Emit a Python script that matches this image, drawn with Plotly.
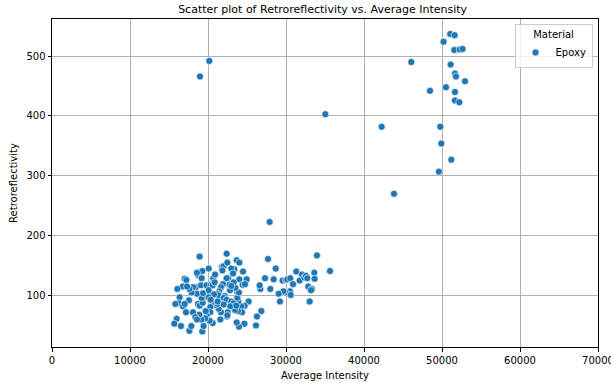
import plotly.graph_objects as go

# Average Intensity (x) and Retroreflectivity (y) for Epoxy markings
intensity = [
    51060, 51620, 50200, 51580, 52260, 52640, 51110, 51660, 51790, 52950,
    50510, 51660, 51660, 52220, 49780, 49910, 51190, 49600, 20170, 18970,
    35040, 42260, 43850, 46060, 48460, 27900,
    18930, 22390, 23680, 24020, 27690, 33970, 35640, 28680, 31320, 21800,
    22000, 20090, 23380, 24490, 22480, 22990, 18760, 19100, 19270, 18590,
    17010, 17220, 19190, 20680, 20900, 21840, 22600, 24020, 24960, 27310,
    28420, 29570, 30000, 30170, 30550, 31750, 32050, 32350, 32560, 32730,
    33630, 33670, 32860, 33330, 33200, 30900, 30510, 29910, 29660, 30600,
    29060, 29230, 33030, 27990, 26710, 26620, 26840, 26280, 26150, 25210,
    24700, 24270, 24660, 23970, 23680, 24360, 23850, 23460, 23890, 23760,
    23760, 23970, 23500, 22820, 23030, 22740, 22390, 21920, 21670, 21450,
    21280, 21370, 22140, 22010, 22390, 22990, 23250, 22860, 22520, 22440,
    21580, 21670, 21370, 20940, 20770, 20300, 20300, 20600, 20210, 19830,
    19700, 19660, 19270, 19150, 18890, 18720, 18930, 19320, 19490, 19190,
    18590, 18420, 19100, 19790, 20380, 20600, 20210, 20380, 20770, 20090,
    19360, 17900, 18080, 17610, 16750, 16070, 16370, 16280, 15810, 16800,
    17180, 18080, 18380, 17560, 17010, 16540, 15980, 15680, 17610, 17860,
    19440, 18590, 20340, 21240, 22010, 22480, 21240, 20090, 20850, 23290,
    23210, 22990, 24450, 24740, 23630, 17310,
]
retro = [
    537, 535, 524, 510, 511, 512, 486, 471, 466, 458,
    448, 440, 426, 423, 382, 354, 327, 307, 492, 466,
    403, 382, 270, 490, 442, 223,
    165, 170, 159, 155, 161, 167, 141, 145, 140, 148,
    149, 145, 144, 140, 155, 145, 134, 140, 141, 138,
    128, 126, 129, 129, 135, 142, 129, 127, 127, 129,
    127, 125, 126, 127, 129, 125, 135, 130, 133, 129,
    138, 128, 115, 111, 109, 119, 107, 105, 107, 101,
    103, 90, 90, 111, 111, 117, 74, 65, 50, 90,
    83, 82, 53, 48, 55, 72, 74, 76, 90, 96,
    106, 105, 113, 109, 120, 118, 129, 119, 114, 107,
    103, 100, 99, 96, 93, 90, 87, 82, 72, 65,
    60, 72, 78, 84, 87, 81, 72, 54, 58, 67,
    74, 62, 40, 60, 68, 86, 83, 88, 97, 96,
    103, 114, 117, 117, 118, 117, 104, 101, 102, 97,
    104, 105, 114, 111, 115, 111, 97, 87, 86, 82,
    72, 72, 64, 92, 86, 49, 61, 53, 41, 49,
    49, 60, 93, 86, 85, 67, 90, 109, 122, 122,
    137, 116, 118, 119, 83, 115,
]

x_ticks = [0, 10000, 20000, 30000, 40000, 50000, 60000, 70000]
y_ticks = [100, 200, 300, 400, 500]

font = "DejaVu Sans"
fig = go.Figure()
fig.add_trace(go.Scatter(
    x=intensity, y=retro, mode="markers", name="Epoxy",
    marker=dict(color="#1f77b4", size=7, line=dict(color="white", width=0.6)),
))

axis_common = dict(
    showline=True, linecolor="black", linewidth=1, mirror=True,
    ticks="outside", ticklen=3.5, tickwidth=0.8, tickcolor="black",
    showgrid=True, gridcolor="#b0b0b0", gridwidth=0.8, zeroline=False,
    tickfont=dict(family=font, size=10, color="black"),
    ticklabeloverflow="allow",
)
fig.update_xaxes(range=[0, 70000.5], tickvals=x_ticks,
                 ticktext=[str(v) for v in x_ticks],
                 title=dict(text="Average Intensity", font=dict(family=font, size=10, color="black"), standoff=7),
                 **axis_common)
fig.update_yaxes(range=[14, 562], tickvals=y_ticks,
                 ticktext=[str(v) for v in y_ticks],
                 title=dict(text="Retroreflectivity", font=dict(family=font, size=10, color="black"), standoff=6),
                 **axis_common)

fig.update_layout(
    width=611, height=383,
    margin=dict(l=52, r=13, t=19, b=36, autoexpand=False),
    plot_bgcolor="white", paper_bgcolor="white",
    title=dict(text="Scatter plot of Retroreflectivity vs. Average Intensity",
               x=0.528, xanchor="center", y=0.975, yanchor="middle",
               font=dict(family=font, size=11, color="black")),
    showlegend=True,
    legend=dict(
        title=dict(text="Material", side="top center", font=dict(family=font, size=10, color="black")),
        x=0.99, y=0.985, xanchor="right", yanchor="top",
        bordercolor="#cccccc", borderwidth=1, bgcolor="rgba(255,255,255,0.8)",
        font=dict(family=font, size=10, color="black"),
    ),
)

fig.write_html("out.html")
